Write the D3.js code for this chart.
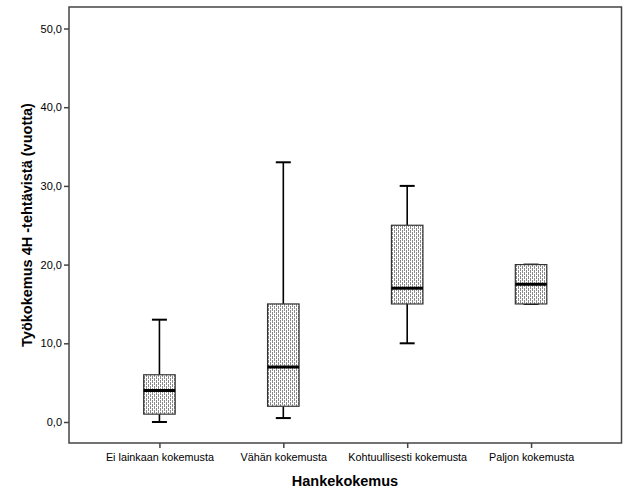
<!DOCTYPE html>
<html><head><meta charset="utf-8">
<script src="https://cdn.jsdelivr.net/npm/d3@7"></script>
<style>body{margin:0;background:#fff}svg{display:block}text{font-family:Arial,"Liberation Sans",sans-serif}</style>
</head><body><svg id="c" width="629" height="504"></svg>
<script>
const categories = ["Ei lainkaan kokemusta","Vähän kokemusta","Kohtuullisesti kokemusta","Paljon kokemusta"];
const whiskerLow = [0, 0.5, 10, 15];
const q1 = [1, 2, 15, 15];
const median = [4, 7, 17, 17.5];
const q3 = [6, 15, 25, 20];
const whiskerHigh = [13, 33, 30, 20];
const yTicks = [0,10,20,30,40,50];
const xTitle = "Hankekokemus";
const yTitle = "Työkokemus 4H -tehtävistä (vuotta)";

const svg = d3.select("#c");
const L=69, R=621.5, T=7, B=443;
const x = d3.scalePoint().domain(categories).range([L,R]).padding(0.73);
const y = d3.scaleLinear().domain([0,50]).range([422,28.5]);

const defs = svg.append("defs");
const pat = defs.append("pattern").attr("id","dots").attr("patternUnits","userSpaceOnUse").attr("width",4).attr("height",4);
pat.append("rect").attr("width",4).attr("height",4).attr("fill","#fff");
pat.append("rect").attr("x",0).attr("y",0).attr("width",1).attr("height",3).attr("fill","#8a8a8a");
pat.append("rect").attr("x",2).attr("y",2).attr("width",1).attr("height",2).attr("fill","#8a8a8a");
pat.append("rect").attr("x",2).attr("y",0).attr("width",1).attr("height",1).attr("fill","#8a8a8a");

// frame
svg.append("rect").attr("x",L).attr("y",T).attr("width",R-L).attr("height",B-T)
  .attr("fill","none").attr("stroke","#444").attr("stroke-width",1.5);

// y axis
const ya = svg.append("g").attr("transform",`translate(${L},0)`)
  .call(d3.axisLeft(y).tickValues(yTicks).tickSize(5).tickPadding(2).tickFormat(d=>d.toFixed(1).replace(".",",")));
ya.select(".domain").remove();
ya.selectAll("line").attr("stroke","#444").attr("stroke-width",1.5);
ya.selectAll("text").attr("font-size",11).attr("fill","#000").attr("font-family","Arial, 'Liberation Sans', sans-serif");

// x axis
const xa = svg.append("g").attr("transform",`translate(0,${B})`)
  .call(d3.axisBottom(x).tickSize(5).tickPadding(5));
xa.select(".domain").remove();
xa.selectAll("line").attr("stroke","#444").attr("stroke-width",1.5);
xa.selectAll("text").attr("font-size",10.8).attr("fill","#000").attr("font-family","Arial, 'Liberation Sans', sans-serif");

// titles
svg.append("text").attr("x",345).attr("y",486).attr("text-anchor","middle")
  .attr("font-size",14.5).attr("font-weight","bold").text(xTitle);
svg.append("text").attr("transform",`translate(32,225) rotate(-90)`).attr("text-anchor","middle")
  .attr("font-size",14.5).attr("font-weight","bold").text(yTitle);

// boxes
const bw = 31.5, cw = 15;
categories.forEach((c,i)=>{
  const cx = x(c);
  const g = svg.append("g");
  // whiskers
  g.append("line").attr("x1",cx).attr("x2",cx).attr("y1",y(whiskerHigh[i])).attr("y2",y(q3[i])).attr("stroke","#000").attr("stroke-width",1.6);
  g.append("line").attr("x1",cx).attr("x2",cx).attr("y1",y(q1[i])).attr("y2",y(whiskerLow[i])).attr("stroke","#000").attr("stroke-width",1.6);
  // caps
  [whiskerHigh[i], whiskerLow[i]].forEach(v=>{
    g.append("line").attr("x1",cx-cw/2).attr("x2",cx+cw/2).attr("y1",y(v)).attr("y2",y(v)).attr("stroke","#000").attr("stroke-width",2);
  });
  // box
  g.append("rect").attr("x",cx-bw/2).attr("y",y(q3[i])).attr("width",bw).attr("height",y(q1[i])-y(q3[i]))
    .attr("fill","url(#dots)").attr("stroke","#333").attr("stroke-width",1.2);
  // median
  g.append("line").attr("x1",cx-bw/2).attr("x2",cx+bw/2).attr("y1",y(median[i])).attr("y2",y(median[i])).attr("stroke","#000").attr("stroke-width",3);
});
</script></body></html>
